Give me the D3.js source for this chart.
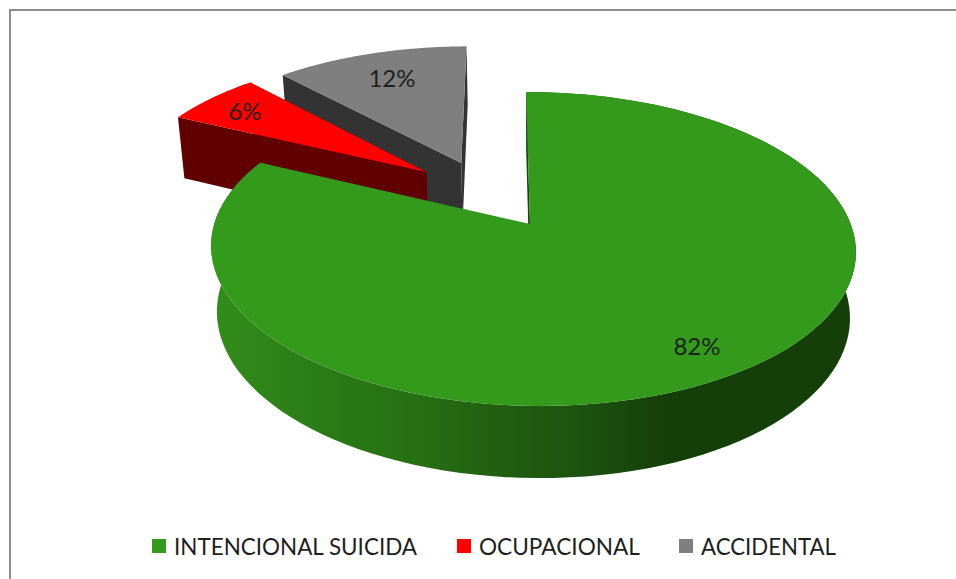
<!DOCTYPE html>
<html><head><meta charset="utf-8">
<script src="https://cdn.jsdelivr.net/npm/d3@7/dist/d3.min.js"></script>
<style>html,body{margin:0;padding:0;background:#fff;overflow:hidden}text{font-family:Lato,"Open Sans",sans-serif;fill:#1f1f1f}</style>
</head><body><svg id="c" width="956" height="579"></svg>
<script>
const categories=["INTENCIONAL SUICIDA","OCUPACIONAL","ACCIDENTAL"];
const values=[82,6,12];
const labels=["82%","6%","12%"];
const topColors=["#339a1b","#ff0000","#7f7f7f"];
const wallColors=["#14470a","#600000","#333333"];
const explodeU=[0,-0.3450,-0.2310];
const explodeV=[0,-0.3537,-0.4219];
const labelPos=[[697,347],[245,112],[392,79]];
const legendX=[152,457,679];
const legendW=[243,161,135];

const svg=d3.select("#c");
const defs=svg.append("defs");
const grad=defs.append("linearGradient").attr("id","side").attr("gradientUnits","userSpaceOnUse")
 .attr("x1",218).attr("x2",850).attr("y1",0).attr("y2",0);
[[0,"#328c19"],[0.18,"#2a7a16"],[0.32,"#266f13"],[0.45,"#205e10"],[0.56,"#1d550f"],[0.71,"#153f09"],[1,"#153f09"]]
 .forEach(s=>grad.append("stop").attr("offset",s[0]).attr("stop-color",s[1]));

const P=0.159,Q=0.0107,AX=530,AY=224,START=-0.8*Math.PI/180;
const top3={r:318.3,a:153,d:0,s:3},bot3={r:312.5,a:158.97,d:65,s:3};
const proj=(u,v,pl)=>{const w=1-P*v-Q*u;return [AX+pl.r*u/w,AY+pl.d+(pl.a*v+pl.s*u)/w];};
const pts=(a0,a1,du,dv,pl)=>d3.range(0,121).map(i=>{const t=a0+(a1-a0)*i/120;return proj(du+Math.sin(t),dv-Math.cos(t),pl);});
const line=d3.line();
const arcs=d3.pie().sort(null).startAngle(START).endAngle(START+2*Math.PI)(values);

svg.append("path").attr("d","M10 579V10H956").attr("fill","none").attr("stroke","#8c8c8c").attr("stroke-width",2);

[2,1,0].forEach(i=>{
 const s=arcs[i],du=explodeU[i],dv=explodeV[i];
 const g=svg.append("g");
 const apexT=proj(du,dv,top3),apexB=proj(du,dv,bot3);
 const topArc=pts(s.startAngle,s.endAngle,du,dv,top3);
 const botArc=pts(s.startAngle,s.endAngle,du,dv,bot3);
 g.append("path").attr("d",line([apexT,topArc[0],botArc[0],apexB])+"Z").attr("fill",wallColors[i]);
 if(i===0){
  g.append("path").attr("d",line(topArc.concat(botArc.slice().reverse()))+"Z").attr("fill","url(#side)");
 }else{
  g.append("path").attr("d",line([apexT,topArc[120],botArc[120],apexB])+"Z").attr("fill",wallColors[i]);
 }
 g.append("path").attr("d",line([apexT].concat(topArc))+"Z").attr("fill",topColors[i]);
});

labels.forEach((t,i)=>svg.append("text").attr("x",labelPos[i][0]).attr("y",labelPos[i][1]+8)
 .attr("text-anchor","middle").attr("font-size",24).text(t));

categories.forEach((c,i)=>{
 svg.append("rect").attr("x",legendX[i]).attr("y",539).attr("width",14).attr("height",14).attr("fill",topColors[i]);
 svg.append("text").attr("x",legendX[i]+22).attr("y",555).attr("font-size",24)
  .attr("textLength",legendW[i]).attr("lengthAdjust","spacingAndGlyphs").text(c);
});
</script></body></html>
